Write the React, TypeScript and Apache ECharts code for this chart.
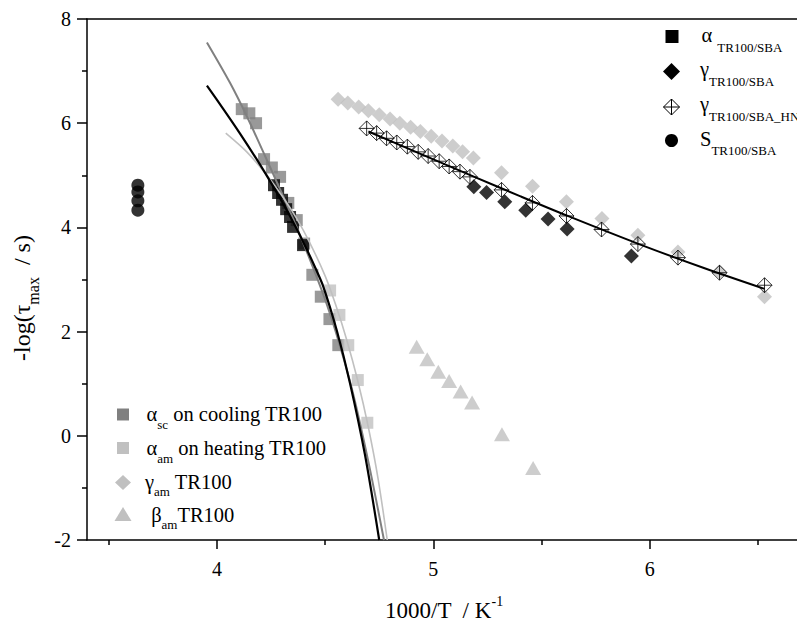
import React, { useEffect, useRef } from "react";
import * as echarts from "echarts";

// ---- data ----
const xMajorTicks = [4, 5, 6];
const xMinorTicks = [3.5, 4.5, 5.5, 6.5];

const sSbaX = [3.635, 3.635, 3.635, 3.635];
const sSbaY = [4.81, 4.68, 4.51, 4.33];

const alphaScX = [4.115, 4.15, 4.181, 4.218, 4.254, 4.292, 4.33, 4.369, 4.403, 4.441, 4.48, 4.52, 4.561];
const alphaScY = [6.27, 6.19, 6.0, 5.31, 5.15, 4.97, 4.47, 4.14, 3.69, 3.09, 2.67, 2.24, 1.74];

const alphaAmX = [4.523, 4.566, 4.607, 4.651, 4.695];
const alphaAmY = [2.79, 2.32, 1.74, 1.07, 0.25];

const alphaSbaX = [4.264, 4.283, 4.301, 4.32, 4.338, 4.352, 4.398];
const alphaSbaY = [4.81, 4.66, 4.53, 4.35, 4.2, 4.01, 3.66];

const gammaAmX = [4.56, 4.605, 4.655, 4.7, 4.75, 4.8, 4.845, 4.895, 4.94, 4.99, 5.04, 5.09, 5.135, 5.185, 5.315, 5.458, 5.615, 5.779, 5.945, 6.13, 6.322, 6.53];
const gammaAmY = [6.46, 6.39, 6.31, 6.24, 6.16, 6.08, 6.0, 5.92, 5.84, 5.75, 5.66, 5.56, 5.45, 5.33, 5.05, 4.79, 4.49, 4.17, 3.85, 3.53, 3.15, 2.67];

const gammaSbaX = [5.187, 5.246, 5.33, 5.427, 5.53, 5.618, 5.915];
const gammaSbaY = [4.78, 4.67, 4.49, 4.33, 4.16, 3.97, 3.45];

const gammaHnX = [4.692, 4.738, 4.784, 4.831, 4.88, 4.93, 4.976, 5.027, 5.073, 5.123, 5.169, 5.315, 5.458, 5.615, 5.777, 5.945, 6.13, 6.322, 6.53];
const gammaHnY = [5.9, 5.81, 5.71, 5.63, 5.55, 5.45, 5.37, 5.27, 5.17, 5.07, 4.97, 4.72, 4.47, 4.22, 3.96, 3.68, 3.42, 3.13, 2.89];

const betaAmX = [4.923, 4.972, 5.023, 5.073, 5.126, 5.179, 5.317, 5.461];
const betaAmY = [1.71, 1.47, 1.23, 1.05, 0.85, 0.64, 0.03, -0.62];

// fit curves
const fitScX = [3.954, 4.06, 4.14, 4.215, 4.28, 4.353, 4.43, 4.508, 4.569, 4.63, 4.7, 4.772];
const fitScY = [7.55, 6.78, 6.12, 5.44, 4.84, 4.16, 3.38, 2.52, 1.72, 0.8, -0.5, -2.0];

const fitAmX = [4.041, 4.138, 4.231, 4.307, 4.369, 4.43, 4.5, 4.55, 4.6, 4.65, 4.7, 4.745, 4.787];
const fitAmY = [5.81, 5.45, 5.0, 4.57, 4.17, 3.7, 3.07, 2.5, 1.84, 1.07, 0.16, -0.83, -2.0];

const fitSbaX = [3.954, 4.03, 4.107, 4.185, 4.238, 4.307, 4.369, 4.423, 4.454, 4.492, 4.554, 4.615, 4.684, 4.75];
const fitSbaY = [6.72, 6.27, 5.8, 5.3, 4.94, 4.45, 3.97, 3.51, 3.23, 2.86, 2.02, 1.01, -0.36, -2.0];

const fitGammaX = [4.7, 4.93, 5.184, 5.4, 5.615, 5.95, 6.25, 6.53];
const fitGammaY = [5.84, 5.43, 4.98, 4.6, 4.23, 3.68, 3.22, 2.82];

const zip = (xs: number[], ys: number[]) => xs.map((x, i) => [x, ys[i]]);

const FONT = "Liberation Serif";
const DARK = "#808080";
const LIGHT = "#c0c0c0";
const CROSS_DIAMOND = "path://M10,0 L20,10 L10,20 L0,10 Z M10,0 L10,20 M0,10 L20,10";

function richLabel(x: number, cy: number, main1: string, sub: string, main2: string, d: number, mainSize = 20.5, subSize = 13) {
  const lh = mainSize + 2;
  const slh = subSize + 1;
  const pt = lh / 2 + d - slh / 2;
  let text = `{m|${main1}}{s|${sub}}`;
  if (main2) text += `{m|${main2}}`;
  return {
    type: "text",
    x,
    y: cy - lh / 2,
    style: {
      text,
      textAlign: "left",
      textVerticalAlign: "top",
      rich: {
        m: { fontFamily: FONT, fontSize: mainSize, lineHeight: lh, verticalAlign: "top", fill: "#000" },
        s: { fontFamily: FONT, fontSize: subSize, lineHeight: slh, verticalAlign: "top", padding: [pt, 0, 0, 0], fill: "#000" },
      },
    },
  };
}

export default function App() {
  const ref = useRef<HTMLDivElement>(null);
  useEffect(() => {
    if (!ref.current) return;
    const chart = echarts.init(ref.current, undefined, { renderer: "svg" });

    const axisLine = { show: true, onZero: false, lineStyle: { color: "#000", width: 1.5 } };

    const option: any = {
      animation: false,
      backgroundColor: "#fff",
      grid: { left: 87, right: 0, top: 19, bottom: 85 },
      xAxis: [
        {
          type: "value",
          min: 3.4,
          max: 6.68,
          position: "bottom",
          axisLine,
          axisTick: { show: true, length: 9, customValues: xMajorTicks, lineStyle: { color: "#000", width: 1.5 } },
          axisLabel: { show: true, customValues: xMajorTicks, margin: 19, fontFamily: FONT, fontSize: 20, color: "#000" },
          splitLine: { show: false },
        },
        {
          type: "value",
          min: 3.4,
          max: 6.68,
          position: "bottom",
          axisLine: { show: false, onZero: false },
          axisTick: { show: true, length: 5, customValues: xMinorTicks, lineStyle: { color: "#000", width: 1.5 } },
          axisLabel: { show: false },
          splitLine: { show: false },
        },
        {
          type: "value",
          min: 3.4,
          max: 6.68,
          position: "top",
          axisLine,
          axisTick: { show: false },
          axisLabel: { show: false },
          splitLine: { show: false },
        },
      ],
      yAxis: {
        type: "value",
        min: -2,
        max: 8,
        interval: 2,
        axisLine,
        axisTick: { show: true, length: 10, lineStyle: { color: "#000", width: 1.5 } },
        minorTick: { show: true, splitNumber: 2, length: 5, lineStyle: { color: "#000", width: 1.5 } },
        axisLabel: { margin: 16, fontFamily: FONT, fontSize: 20, color: "#000" },
        splitLine: { show: false },
      },
      series: [
        { type: "scatter", name: "gamma_am", data: zip(gammaAmX, gammaAmY), symbol: "diamond", symbolSize: 15, itemStyle: { color: LIGHT }, z: 2 },
        { type: "scatter", name: "beta_am", data: zip(betaAmX, betaAmY), symbol: "triangle", symbolSize: [16, 14], itemStyle: { color: LIGHT }, z: 2 },
        { type: "scatter", name: "alpha_sc", data: zip(alphaScX, alphaScY), symbol: "rect", symbolSize: 12, itemStyle: { color: DARK }, z: 2 },
        { type: "scatter", name: "alpha_am", data: zip(alphaAmX, alphaAmY), symbol: "rect", symbolSize: 12, itemStyle: { color: LIGHT }, z: 3 },
        { type: "scatter", name: "alpha_sba", data: zip(alphaSbaX, alphaSbaY), symbol: "rect", symbolSize: 12, itemStyle: { color: "#000" }, z: 4 },
        { type: "scatter", name: "gamma_sba", data: zip(gammaSbaX, gammaSbaY), symbol: "diamond", symbolSize: 15, itemStyle: { color: "#000" }, z: 4 },
        { type: "scatter", name: "s_sba", data: zip(sSbaX, sSbaY), symbol: "circle", symbolSize: 13, itemStyle: { color: "#000" }, z: 4 },
        { type: "scatter", name: "gamma_hn", data: zip(gammaHnX, gammaHnY), symbol: CROSS_DIAMOND, symbolSize: 15, itemStyle: { color: "none", borderColor: "#000", borderWidth: 1 }, z: 5 },
        { type: "line", name: "fit_sc", data: zip(fitScX, fitScY), showSymbol: false, smooth: 0.3, lineStyle: { color: DARK, width: 2 }, z: 6 },
        { type: "line", name: "fit_am", data: zip(fitAmX, fitAmY), showSymbol: false, smooth: 0.3, lineStyle: { color: LIGHT, width: 1.6 }, z: 6 },
        { type: "line", name: "fit_sba", data: zip(fitSbaX, fitSbaY), showSymbol: false, smooth: 0.3, lineStyle: { color: "#000", width: 2.2 }, z: 7 },
        { type: "line", name: "fit_gamma", data: zip(fitGammaX, fitGammaY), showSymbol: false, smooth: 0.3, lineStyle: { color: "#000", width: 2 }, z: 7 },
      ],
      graphic: [
        // bottom-left legend
        { type: "rect", shape: { x: 117, y: 408.5, width: 12, height: 12 }, style: { fill: DARK } },
        { type: "rect", shape: { x: 117, y: 442, width: 12, height: 12 }, style: { fill: LIGHT } },
        { type: "polygon", shape: { points: [[123, 475], [131, 482.5], [123, 490], [115, 482.5]] }, style: { fill: LIGHT } },
        { type: "polygon", shape: { points: [[123, 507], [131.5, 521], [114.5, 521]] }, style: { fill: LIGHT } },
        richLabel(146.5, 415, "α", "sc", " on cooling TR100", 10),
        richLabel(146.5, 448.5, "α", "am", " on heating TR100", 10),
        richLabel(145, 482.5, "γ", "am", " TR100", 9),
        richLabel(146, 516, " β", "am", "TR100", 9),
        // top-right legend
        { type: "rect", shape: { x: 665.5, y: 30, width: 13, height: 13 }, style: { fill: "#000" } },
        { type: "polygon", shape: { points: [[671.5, 63], [680, 71.5], [671.5, 80], [663, 71.5]] }, style: { fill: "#000" } },
        {
          type: "group",
          children: [
            { type: "polygon", shape: { points: [[671.5, 99], [679.5, 107], [671.5, 115], [663.5, 107]] }, style: { fill: "none", stroke: "#000", lineWidth: 1 } },
            { type: "line", shape: { x1: 671.5, y1: 99, x2: 671.5, y2: 115 }, style: { stroke: "#000", lineWidth: 1 } },
            { type: "line", shape: { x1: 663.5, y1: 107, x2: 679.5, y2: 107 }, style: { stroke: "#000", lineWidth: 1 } },
          ],
        },
        { type: "circle", shape: { cx: 671.5, cy: 140.5, r: 6.5 }, style: { fill: "#000" } },
        richLabel(701.5, 36, "α ", "TR100/SBA", "", 12),
        richLabel(700, 70, "γ", "TR100/SBA", "", 12),
        richLabel(700, 105, "γ", "TR100/SBA_HN", "", 12),
        richLabel(700, 140, "S", "TR100/SBA", "", 11),
        // axis titles
        {
          type: "text",
          x: 444,
          y: 594.5,
          style: {
            text: "{m|1000/T  / K}{s|-1}",
            textAlign: "center",
            textVerticalAlign: "top",
            rich: {
              m: { fontFamily: FONT, fontSize: 23, lineHeight: 26, verticalAlign: "top", padding: [4, 0, 0, 0], fill: "#000" },
              s: { fontFamily: FONT, fontSize: 14, lineHeight: 16, verticalAlign: "top", fill: "#000" },
            },
          },
        },
        {
          type: "text",
          x: 10,
          y: 298,
          rotation: Math.PI / 2,
          style: {
            text: "{m|-log(τ}{s|max}{m|  / s)}",
            textAlign: "center",
            textVerticalAlign: "top",
            rich: {
              m: { fontFamily: FONT, fontSize: 24, lineHeight: 26, verticalAlign: "top", fill: "#000" },
              s: { fontFamily: FONT, fontSize: 16, lineHeight: 16, verticalAlign: "top", padding: [15, 0, 0, 0], fill: "#000" },
            },
          },
        },
      ],
    };
    chart.setOption(option);
    return () => chart.dispose();
  }, []);
  return (
    <div
      ref={ref}
      style={{ position: "absolute", left: 0, top: 0, width: 797, height: 625, background: "#fff" }}
    />
  );
}
